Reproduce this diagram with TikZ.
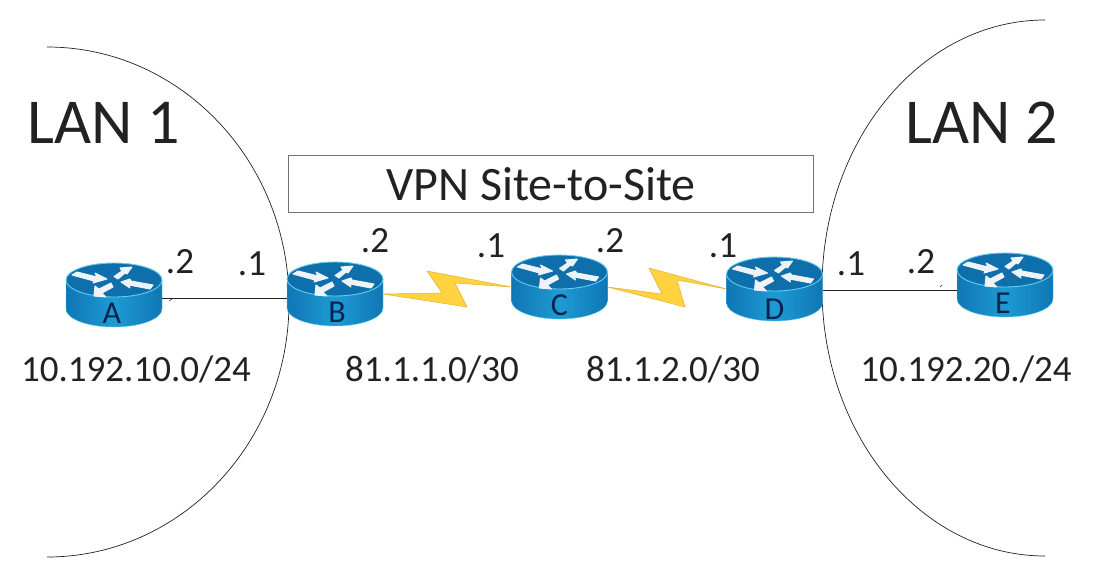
\documentclass[tikz,border=0pt]{standalone}
\usepackage{fontspec}
\setmainfont{Carlito}
\usetikzlibrary{calc}
\definecolor{topblue}{HTML}{0E6FAB}
\definecolor{sideedge}{HTML}{0F76B4}
\definecolor{sidemid}{HTML}{1E9BD3}
\definecolor{rim}{HTML}{63CDF2}
\definecolor{inkc}{HTML}{222222}
\definecolor{labc}{HTML}{0A2450}
\definecolor{boltc}{HTML}{FFD23F}
\definecolor{boltedge}{HTML}{E8B030}
\definecolor{arrowc}{HTML}{EDF3F6}
\tikzset{
  routerbox/.style={minimum width=96pt,minimum height=64pt,inner sep=0pt,outer sep=0pt},
  routerlabel/.style={font=\fontsize{32}{32}\selectfont,text=labc,inner sep=0pt},
  whitearrow/.style={fill=arrowc,draw=arrowc,line width=1pt,line join=round},
  lanarc/.style={draw=inkc,line width=0.7pt},
  wire/.style={draw=inkc,line width=0.8pt},
  bolt/.style={fill=boltc,draw=boltedge,line width=0.5pt,line join=miter},
  big/.style={font=\fontsize{64}{64}\selectfont,text=inkc,inner sep=0pt},
  mid/.style={font=\fontsize{37}{37}\selectfont,text=inkc,inner sep=0pt},
  vpnframe/.style={draw=black!55,line width=0.7pt,minimum width=525pt,minimum height=57pt,inner sep=0pt},
  vpntitle/.style={font=\fontsize{48}{48}\selectfont,text=inkc,inner sep=0pt},
}
% name, centre x, centre y, label, label dx, label dy
\newcommand{\netrouter}[6]{%
  \node[routerbox] (#1) at (#2,#3) {};
  \begin{scope}[shift={(#2,#3)}]
    \path[left color=sideedge,right color=sideedge,middle color=sidemid,draw=rim,line width=0.4pt]
      (-48,-15) -- (-48,14) arc[start angle=180,end angle=360,x radius=48pt,y radius=18pt] -- (48,-15) -- cycle;
    \path[fill=topblue,draw=rim,line width=0.9pt] (0,-15) ellipse [x radius=48pt,y radius=17pt];
    \path[whitearrow] (-42,-20) -- (-37,-23) -- (-17,-18) -- (-19,-22) -- (-7,-16) -- (-21,-12) -- (-20,-14) -- cycle;
    \path[whitearrow] (0,-18.5) -- (4,-16) -- (11,-22) -- (13,-21) -- (18,-28) -- (6,-27) -- (8,-24) -- cycle;
    \path[whitearrow] (39,-10) -- (36,-6) -- (15,-10) -- (16,-7) -- (7,-13) -- (16,-16) -- (17,-14) -- cycle;
    \path[whitearrow] (-3,-12) -- (-15,-6) -- (-19,-9) -- (-20,1) -- (-8,2) -- (-12,-2) -- (-1,-8) -- cycle;
    \node[routerlabel] (#1lab) at (#5,#6) {#4};
  \end{scope}
}
\begin{document}
\begin{tikzpicture}[x=1pt,y=-1pt]
\useasboundingbox[fill=white] (0,0) rectangle (1099,576);
\path[lanarc] (47,47) arc[start angle=90,end angle=-90,x radius=242pt,y radius=255pt];
\path[lanarc] (1045,20) arc[start angle=90,end angle=270,x radius=223pt,y radius=268pt];

\netrouter{A}{114}{295}{A}{-2}{18}
\netrouter{B}{335}{294}{B}{2}{18}
\netrouter{C}{559.5}{287}{C}{0}{18}
\netrouter{D}{774.5}{289}{D}{0}{20}
\netrouter{E}{1005}{285}{E}{-2}{18}

\draw[wire] ([yshift=-3pt]A.east) -- ([yshift=-4pt]B.west);
\draw[wire] ([yshift=-1pt]D.east) -- ([yshift=-5pt]E.west);
\draw[line width=0.5pt,inkc] (169,301) -- (172,299);
\draw[line width=0.5pt,inkc] (940,287) -- (942,285);

\path[bolt] (B.east) -- (442,293) -- (427,271) -- (C.west) -- (455,283) -- (467,307) -- cycle;
\path[bolt] (C.east) -- (662,294) -- (649,268) -- (D.west) -- (677,280) -- (685,307) -- cycle;

\node[vpnframe] (vpnbox) at (550.5,183.5) {};
\node[vpntitle] (vpntext) at (541,184) {VPN Site-to-Site};

\node[big] (lan1) at (104,123) {LAN 1};
\node[big] (lan2) at (982,123) {LAN 2};

\node[mid] (a2) at (180,262) {.2};
\node[mid] (b1) at (252,264) {.1};
\node[mid] (b2) at (375,241) {.2};
\node[mid] (c1) at (491,246) {.1};
\node[mid] (c2) at (610,241) {.2};
\node[mid] (d1) at (723,246) {.1};
\node[mid] (d2) at (851,264) {.1};
\node[mid] (e2) at (921,262) {.2};

\node[mid] (net1) at (136,369) {10.192.10.0/24};
\node[mid] (net2) at (432,369) {81.1.1.0/30};
\node[mid] (net3) at (673,369) {81.1.2.0/30};
\node[mid] (net4) at (966,369) {10.192.20./24};
\end{tikzpicture}
\end{document}
